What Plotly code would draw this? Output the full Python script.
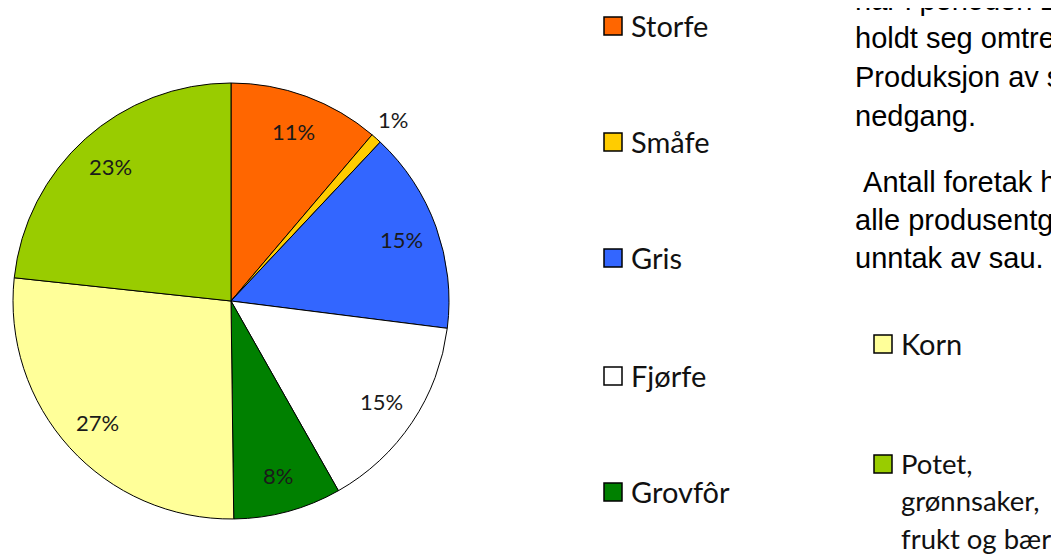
import math
import plotly.graph_objects as go

# ---- data ----
categories = ["Storfe", "Småfe", "Gris", "Fjørfe", "Grovfôr", "Korn", "Potet, grønnsaker, frukt og bær"]
legend_labels = ["Storfe", "Småfe", "Gris", "Fjørfe", "Grovfôr", "Korn", "Potet,<br>grønnsaker,<br>frukt og bær"]
values = [11.2, 0.8, 15.0, 14.8, 8.0, 26.9, 23.3]
colors = ["#FF6600", "#FFCC00", "#3366FF", "#FFFFFF", "#008000", "#FFFF99", "#99CC00"]

side_text = [
    "har i perioden 20",
    "holdt seg omtren",
    "Produksjon av s",
    "nedgang.",
    " Antall foretak ha",
    "alle produsentgr",
    "unntak av sau.",
]

# ---- layout constants (pixels in the screenshot; page body has an 8px margin) ----
W, H = 1059, 555
OFF = 8
CX, CY, R = 231, 301, 218

def px(x):
    return (x - OFF) / W

def py(y):
    return 1 - (y - OFF) / H

fig = go.Figure()
fig.add_trace(go.Pie(
    labels=categories,
    values=values,
    sort=False,
    direction="clockwise",
    rotation=0,
    marker=dict(colors=colors, line=dict(color="#000000", width=1)),
    textinfo="none",
    hoverinfo="label+percent",
    showlegend=False,
    domain=dict(x=[px(CX - R), px(CX + R)], y=[py(CY + R), py(CY - R)]),
))

annotations = []
total = sum(values)
cum = 0.0
for i, v in enumerate(values):
    mid = (cum + v / 2) / total * 2 * math.pi
    cum += v
    pct = round(v / total * 100)
    r = R * 0.83 if pct >= 3 else R * 1.115
    lx = CX + r * math.sin(mid)
    ly = CY - r * math.cos(mid)
    annotations.append(dict(
        x=px(lx), y=py(ly), xref="paper", yref="paper",
        text=f"{pct}%", showarrow=False, xanchor="center", yanchor="middle",
        font=dict(family="Lato", size=22, color="#1a1a1a"),
    ))

# legend (manual, two columns)
legend_pos = [
    (604, 26), (604, 142), (604, 258), (604, 376), (604, 492),
    (874, 344), (874, 464),
]
SW = 18
LINE_GAP = 37.5
shapes = []
for (x0, yc), col, lab in zip(legend_pos, colors, legend_labels):
    shapes.append(dict(
        type="rect", xref="paper", yref="paper",
        x0=px(x0), x1=px(x0 + SW), y0=py(yc + SW / 2), y1=py(yc - SW / 2),
        fillcolor=col, line=dict(color="#000000", width=1.5),
    ))
    parts = lab.split("<br>")
    size = 29 if len(parts) == 1 else 27.5
    for k, part in enumerate(parts):
        annotations.append(dict(
            x=px(x0 + SW + 7), y=py(yc - 1 + k * LINE_GAP), xref="paper", yref="paper",
            text=part, showarrow=False, xanchor="left", yanchor="middle",
            font=dict(family="Lato", size=size, color="#111111"),
        ))

# side text (document body)
baselines = [10, 48, 87, 126, 192, 230, 268]
for line, b in zip(side_text, baselines):
    annotations.append(dict(
        x=px(853), y=py(b - 10), xref="paper", yref="paper",
        text=line.replace(" ", "&nbsp;", 1) if line.startswith(" ") else line,
        showarrow=False, xanchor="left", yanchor="middle",
        font=dict(family="Liberation Sans", size=29, color="#000000"),
    ))

fig.update_layout(
    width=W, height=H,
    margin=dict(l=0, r=0, t=0, b=0),
    paper_bgcolor="white", plot_bgcolor="white",
    showlegend=False,
    shapes=shapes,
    annotations=annotations,
)

fig.write_html("out.html")
